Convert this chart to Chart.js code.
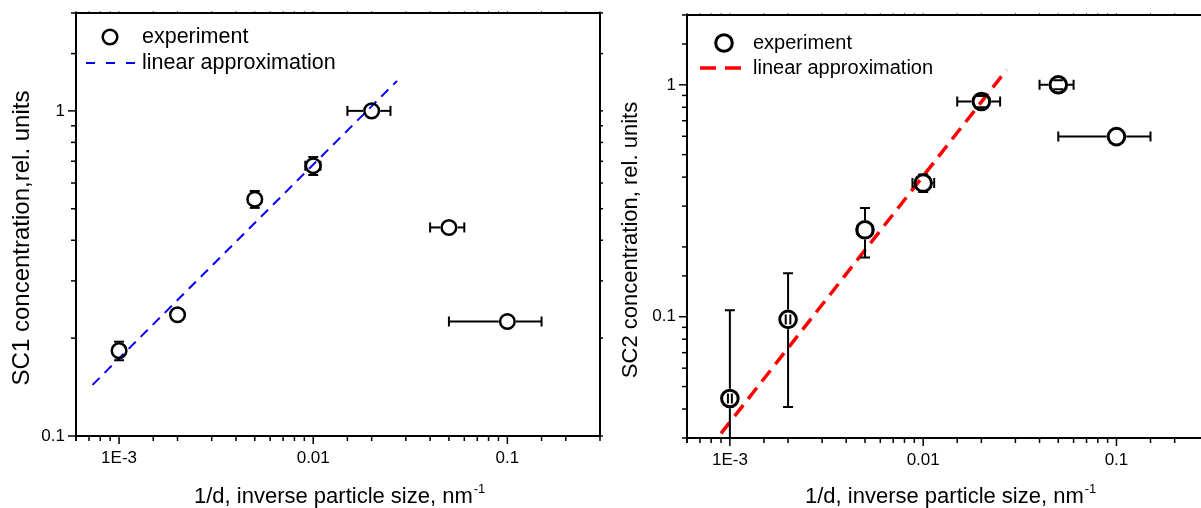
<!DOCTYPE html>
<html>
<head>
<meta charset="utf-8">
<script src="https://cdn.jsdelivr.net/npm/chart.js@4"></script>
<style>
  html, body { margin: 0; padding: 0; background: #fff; overflow: hidden; width: 1201px; height: 508px; }
  .panel { position: absolute; top: 0; width: 610px; height: 508px; }
  #left { left: 0; }
  #right { left: 610px; }
</style>
</head>
<body>
<div class="panel" id="left"><canvas id="sc1"></canvas></div>
<div class="panel" id="right"><canvas id="sc2"></canvas></div>
<script>
const FONT = '"Liberation Sans", Arial, sans-serif'

// shared x axis (1/d, nm^-1)
const xTickVals = [0.001, 0.01, 0.1]
const xTickLabels = ["1E-3", "0.01", "0.1"]
const yTickVals = [0.1, 1]
const yTickLabels = ["0.1", "1"]

// SC1 panel
const sc1X = [0.001, 0.002, 0.005, 0.01, 0.02, 0.05, 0.1]
const sc1Y = [0.183, 0.236, 0.535, 0.678, 1.0, 0.438, 0.225]
const sc1XLo = [null, null, null, 0.0091, 0.015, 0.04, 0.05]
const sc1XHi = [null, null, null, 0.0109, 0.025, 0.06, 0.15]
const sc1YLo = [0.171, null, 0.503, 0.635, null, null, null]
const sc1YHi = [0.195, null, 0.567, 0.721, null, null, null]
const sc1FitX = [0.00073, 0.027]
const sc1FitY = [0.1436, 1.236]

// SC2 panel
const sc2X = [0.001, 0.002, 0.005, 0.01, 0.02, 0.05, 0.1]
const sc2Y = [0.0444, 0.0974, 0.237, 0.377, 0.847, 1.0, 0.598]
const sc2XLo = [0.000977, 0.001945, 0.00457, 0.0088, 0.015, 0.04, 0.05]
const sc2XHi = [0.001024, 0.002055, 0.00547, 0.0114, 0.025, 0.06, 0.15]
const sc2YLo = [0.001, 0.0408, 0.18, 0.345, 0.80, 0.956, null]
const sc2YHi = [0.1066, 0.154, 0.294, 0.41, 0.896, 1.046, null]
const sc2FitX = [0.0009, 0.027]
const sc2FitY = [0.0314, 1.16]

function isDecade(v) {
  const l = Math.log10(v)
  return Math.abs(l - Math.round(l)) < 1e-6
}

function labelFor(vals, labels) {
  return (v) => {
    const i = vals.findIndex((t) => Math.abs(t - v) / t < 1e-6)
    return i >= 0 ? labels[i] : ""
  }
}

function line(ctx, x0, y0, x1, y1) {
  ctx.beginPath()
  ctx.moveTo(x0, y0)
  ctx.lineTo(x1, y1)
  ctx.stroke()
}

// scales should not push the plot area around for edge labels
function fixScale(size, key) {
  return (s) => {
    s[key] = size
    s.paddingTop = 0
    s.paddingBottom = 0
    s.paddingLeft = 0
    s.paddingRight = 0
  }
}

// error bars, drawn through the chart's own scales
const errorBars = {
  id: "errorBars",
  afterDatasetsDraw(chart, args, o) {
    const { ctx, chartArea: a, scales: { x, y } } = chart
    const r = o.gap
    const c = o.cap / 2
    ctx.save()
    ctx.beginPath()
    ctx.rect(a.left, a.top, a.right - a.left, a.bottom - a.top)
    ctx.clip()
    ctx.strokeStyle = "#000"
    ctx.lineWidth = o.width
    o.x.forEach((xv, i) => {
      const px = x.getPixelForValue(xv)
      const py = y.getPixelForValue(o.y[i])
      if (o.xLo[i] != null) {
        const lo = x.getPixelForValue(o.xLo[i])
        const hi = x.getPixelForValue(o.xHi[i])
        if (lo < px - r) line(ctx, lo, py, px - r, py)
        if (hi > px + r) line(ctx, px + r, py, hi, py)
        line(ctx, lo, py - c, lo, py + c)
        line(ctx, hi, py - c, hi, py + c)
      }
      if (o.yLo[i] != null) {
        const lo = y.getPixelForValue(o.yLo[i])
        const hi = y.getPixelForValue(o.yHi[i])
        if (lo > py + r) line(ctx, px, py + r, px, lo)
        if (hi < py - r) line(ctx, px, hi, px, py - r)
        line(ctx, px - c, lo, px + c, lo)
        line(ctx, px - c, hi, px + c, hi)
      }
    })
    ctx.restore()
  },
}

// box, tick marks and axis titles
const frame = {
  id: "frame",
  afterDraw(chart, args, o) {
    const { ctx, chartArea: a, scales: { x, y } } = chart
    ctx.save()
    ctx.strokeStyle = "#000"
    ctx.lineWidth = 1.5
    x.ticks.forEach((t) => {
      const px = x.getPixelForValue(t.value)
      line(ctx, px, a.bottom, px, a.bottom + (isDecade(t.value) ? 8 : 5))
    })
    y.ticks.forEach((t) => {
      const py = y.getPixelForValue(t.value)
      line(ctx, a.left, py, a.left - (isDecade(t.value) ? 8 : 5), py)
      line(ctx, a.right, py, a.right + 3, py)
    })
    ctx.lineWidth = 1
    ctx.strokeStyle = "#555"
    x.ticks.forEach((t) => {
      const px = x.getPixelForValue(t.value)
      line(ctx, px, a.top, px, a.top - 2)
    })
    ctx.strokeStyle = "#000"
    ctx.lineWidth = 2
    ctx.strokeRect(a.left, a.top, a.right - a.left, a.bottom - a.top)

    ctx.fillStyle = "#000"
    ctx.font = `${o.xTitleSize}px ${FONT}`
    ctx.textAlign = "left"
    ctx.textBaseline = "alphabetic"
    ctx.fillText(o.xTitle, o.xTitleX, o.xTitleY)
    const w = ctx.measureText(o.xTitle).width
    ctx.font = `${Math.round(o.xTitleSize * 0.6)}px ${FONT}`
    ctx.fillText("-1", o.xTitleX + w + 1, o.xTitleY - 10)

    ctx.font = `${o.yTitleSize}px ${FONT}`
    ctx.translate(o.yTitleX, o.yTitleY)
    ctx.rotate(-Math.PI / 2)
    ctx.textAlign = "center"
    ctx.textBaseline = "middle"
    ctx.fillText(o.yTitle, 0, 0)
    ctx.restore()
  },
}

// legend inside the plot
const legendBox = {
  id: "legendBox",
  afterDraw(chart, args, o) {
    const ctx = chart.ctx
    const ds = chart.data.datasets
    ctx.save()
    ctx.strokeStyle = "#000"
    ctx.lineWidth = o.markerWidth
    ctx.beginPath()
    ctx.arc(o.markerX, o.row1, o.markerR, 0, Math.PI * 2)
    ctx.stroke()
    ctx.strokeStyle = ds[1].borderColor
    ctx.lineWidth = ds[1].borderWidth
    ctx.setLineDash(o.dash)
    line(ctx, o.lineX0, o.row2, o.lineX1, o.row2)
    ctx.setLineDash([])
    ctx.fillStyle = "#000"
    ctx.font = `${o.fontSize}px ${FONT}`
    ctx.textBaseline = "middle"
    ctx.fillText(ds[0].label, o.textX, o.row1)
    ctx.fillText(ds[1].label, o.textX, o.row2)
    ctx.restore()
  },
}

function makePanel(id, p) {
  const pts = p.xs.map((x, i) => ({ x, y: p.ys[i] }))
  const fit = p.fitX.map((x, i) => ({ x, y: p.fitY[i] }))
  return new Chart(document.getElementById(id), {
    type: "scatter",
    data: {
      datasets: [
        {
          label: "experiment",
          data: pts,
          pointStyle: "circle",
          pointRadius: p.markerR,
          pointBorderWidth: p.markerWidth,
          pointBorderColor: "#000",
          pointBackgroundColor: "rgba(0,0,0,0)",
          order: 1,
        },
        {
          label: "linear approximation",
          data: fit,
          showLine: true,
          pointRadius: 0,
          borderColor: p.fitColor,
          borderWidth: p.fitWidth,
          borderDash: p.fitDash,
          order: 2,
        },
      ],
    },
    options: {
      responsive: true,
      maintainAspectRatio: false,
      animation: false,
      events: [],
      layout: { padding: { top: p.padTop, right: 10, left: 0, bottom: 0 } },
      scales: {
        x: {
          type: "logarithmic",
          min: 0.0006,
          max: 0.3,
          border: { display: false },
          grid: { display: false, drawTicks: false },
          ticks: {
            autoSkip: false,
            maxRotation: 0,
            padding: 12,
            color: "#000",
            font: { family: FONT, size: 17 },
            callback: labelFor(xTickVals, xTickLabels),
          },
          afterFit: fixScale(p.xHeight, "height"),
        },
        y: {
          type: "logarithmic",
          min: p.yMin,
          max: 2,
          border: { display: false },
          grid: { display: false, drawTicks: false },
          ticks: {
            autoSkip: false,
            padding: 11,
            color: "#000",
            font: { family: FONT, size: 17 },
            callback: labelFor(yTickVals, yTickLabels),
          },
          afterFit: fixScale(p.yWidth, "width"),
        },
      },
      plugins: {
        legend: { display: false },
        tooltip: { enabled: false },
        errorBars: {
          x: p.xs, y: p.ys, xLo: p.xLo, xHi: p.xHi, yLo: p.yLo, yHi: p.yHi,
          gap: p.markerR + p.markerWidth / 2, cap: 10, width: 2,
        },
        frame: p.frame,
        legendBox: p.legend,
      },
    },
    plugins: [errorBars, frame, legendBox],
  })
}

makePanel("sc1", {
  xs: sc1X, ys: sc1Y, xLo: sc1XLo, xHi: sc1XHi, yLo: sc1YLo, yHi: sc1YHi,
  fitX: sc1FitX, fitY: sc1FitY,
  fitColor: "#0000ff", fitWidth: 2, fitDash: [10, 7],
  markerR: 7.3, markerWidth: 2.5,
  yMin: 0.1, padTop: 13, yWidth: 76, xHeight: 72,
  frame: {
    xTitleSize: 22, yTitleSize: 24,
    xTitle: "1/d, inverse particle size, nm", xTitleX: 194, xTitleY: 503,
    yTitle: "SC1 concentration,rel. units", yTitleX: 22, yTitleY: 238,
  },
  legend: {
    markerX: 110, markerR: 7.3, markerWidth: 2.5, row1: 37, row2: 63,
    lineX0: 86, lineX1: 137, dash: [9, 11], textX: 142, fontSize: 21.5,
  },
})

makePanel("sc2", {
  xs: sc2X, ys: sc2Y, xLo: sc2XLo, xHi: sc2XHi, yLo: sc2YLo, yHi: sc2YHi,
  fitX: sc2FitX, fitY: sc2FitY,
  fitColor: "#ff0000", fitWidth: 3.5, fitDash: [14, 8],
  markerR: 8.3, markerWidth: 3,
  yMin: 0.03, padTop: 15, yWidth: 77, xHeight: 70,
  frame: {
    xTitleSize: 22, yTitleSize: 22,
    xTitle: "1/d, inverse particle size, nm", xTitleX: 195, xTitleY: 503,
    yTitle: "SC2 concentration, rel. units", yTitleX: 21, yTitleY: 240,
  },
  legend: {
    markerX: 114, markerR: 8.3, markerWidth: 3, row1: 43, row2: 68,
    lineX0: 90, lineX1: 136, dash: [16, 9], textX: 143, fontSize: 20,
  },
})
</script>
</body>
</html>
